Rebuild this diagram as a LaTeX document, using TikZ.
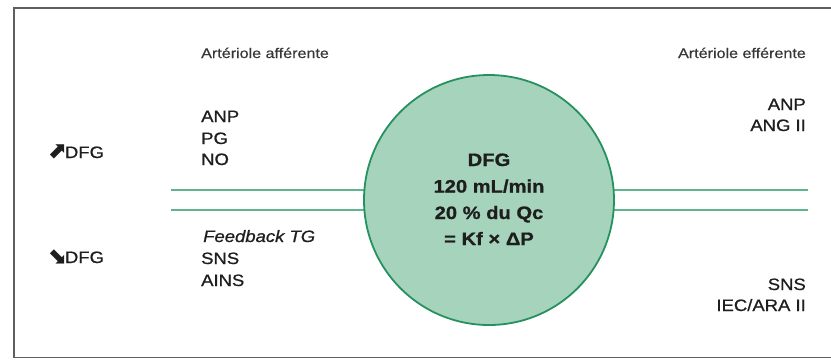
\documentclass[tikz,border=0pt]{standalone}
\usepackage{fontspec}
\setmainfont{Liberation Sans}[FakeStretch=1.12, FakeBold=0.8]
\newfontfamily\hdrfont{Liberation Sans}[FakeStretch=1.15, FakeBold=0.3]
\newfontfamily\arrowfont{DejaVu Sans}
\usetikzlibrary{backgrounds}
\definecolor{discfill}{RGB}{166,211,188}
\definecolor{discedge}{RGB}{38,145,95}
\definecolor{vessel}{RGB}{95,182,140}
\definecolor{ink}{RGB}{30,30,30}
\definecolor{hdrink}{RGB}{55,55,55}
\definecolor{framecol}{RGB}{95,95,95}
% heavy trend arrow placed before a label
\newcommand{\trendarrow}[1]{{\arrowfont\bfseries\fontsize{23}{23}\selectfont\raisebox{-0.5pt}{#1}}\hspace{-1.5pt}}
\begin{document}
\begin{tikzpicture}[x=1pt,y=-1pt,
  lbl/.style={inner sep=0pt, text=ink, font=\fontsize{16.5}{19}\selectfont},
  hdr/.style={inner sep=0pt, text=hdrink, font=\hdrfont\fontsize{14}{16}\selectfont},
  core/.style={inner sep=0pt, text=ink, font=\bfseries\fontsize{18}{20}\selectfont},
  vesselline/.style={vessel, line width=2pt}]
\useasboundingbox (0,0) rectangle (831,360);
\clip (0,0) rectangle (831,360);
% outer frame (continues past the right edge)
\draw[framecol, line width=1.6pt] (14,8) rectangle (860,357.5);

% glomerulus
\node[circle, draw=discedge, fill=discfill, line width=1.8pt,
      minimum size=250pt, inner sep=0pt] (glom) at (489,200) {};

% afferent and efferent arterioles
\coordinate (affTop) at (171,190);
\coordinate (affBot) at (171,210);
\coordinate (effTop) at (808,190);
\coordinate (effBot) at (808,210);
\begin{scope}[on background layer]
  \draw[vesselline] (affTop) -- (affTop -| glom.center);
  \draw[vesselline] (affBot) -- (affBot -| glom.center);
  \draw[vesselline] (effTop) -- (effTop -| glom.center);
  \draw[vesselline] (effBot) -- (effBot -| glom.center);
\end{scope}

% text inside the glomerulus
\node[core, anchor=base] (c1) at (489,166) {DFG};
\node[core, anchor=base] (c2) at (489,192.5) {120 mL/min};
\node[core, anchor=base] (c3) at (489,219) {20 \% du Qc};
\node[core, anchor=base] (c4) at (489,245) {= Kf × ΔP};

% headings
\node[hdr, anchor=base west] (hAff) at (201,58) {Artériole afférente};
\node[hdr, anchor=base east] (hEff) at (806,58) {Artériole efférente};

% left column: DFG up / down
\node[lbl, anchor=base west] (up) at (47,158) {\trendarrow{⬈}DFG};
\node[lbl, anchor=base west] (down) at (47,263) {\trendarrow{⬊}DFG};

% afferent factors
\node[lbl, anchor=base west] (a1) at (201,122) {ANP};
\node[lbl, anchor=base west] (a2) at (201,144) {PG};
\node[lbl, anchor=base west] (a3) at (201,165) {NO};
\node[lbl, anchor=base west] (a4) at (203,242) {\itshape Feedback TG};
\node[lbl, anchor=base west] (a5) at (201,264) {SNS};
\node[lbl, anchor=base west] (a6) at (201,286) {AINS};

% efferent factors
\node[lbl, anchor=base east] (e1) at (806,110) {ANP};
\node[lbl, anchor=base east] (e2) at (806,131) {ANG II};
\node[lbl, anchor=base east] (e3) at (806,290) {SNS};
\node[lbl, anchor=base east] (e4) at (806,311) {IEC/ARA II};
\end{tikzpicture}
\end{document}
